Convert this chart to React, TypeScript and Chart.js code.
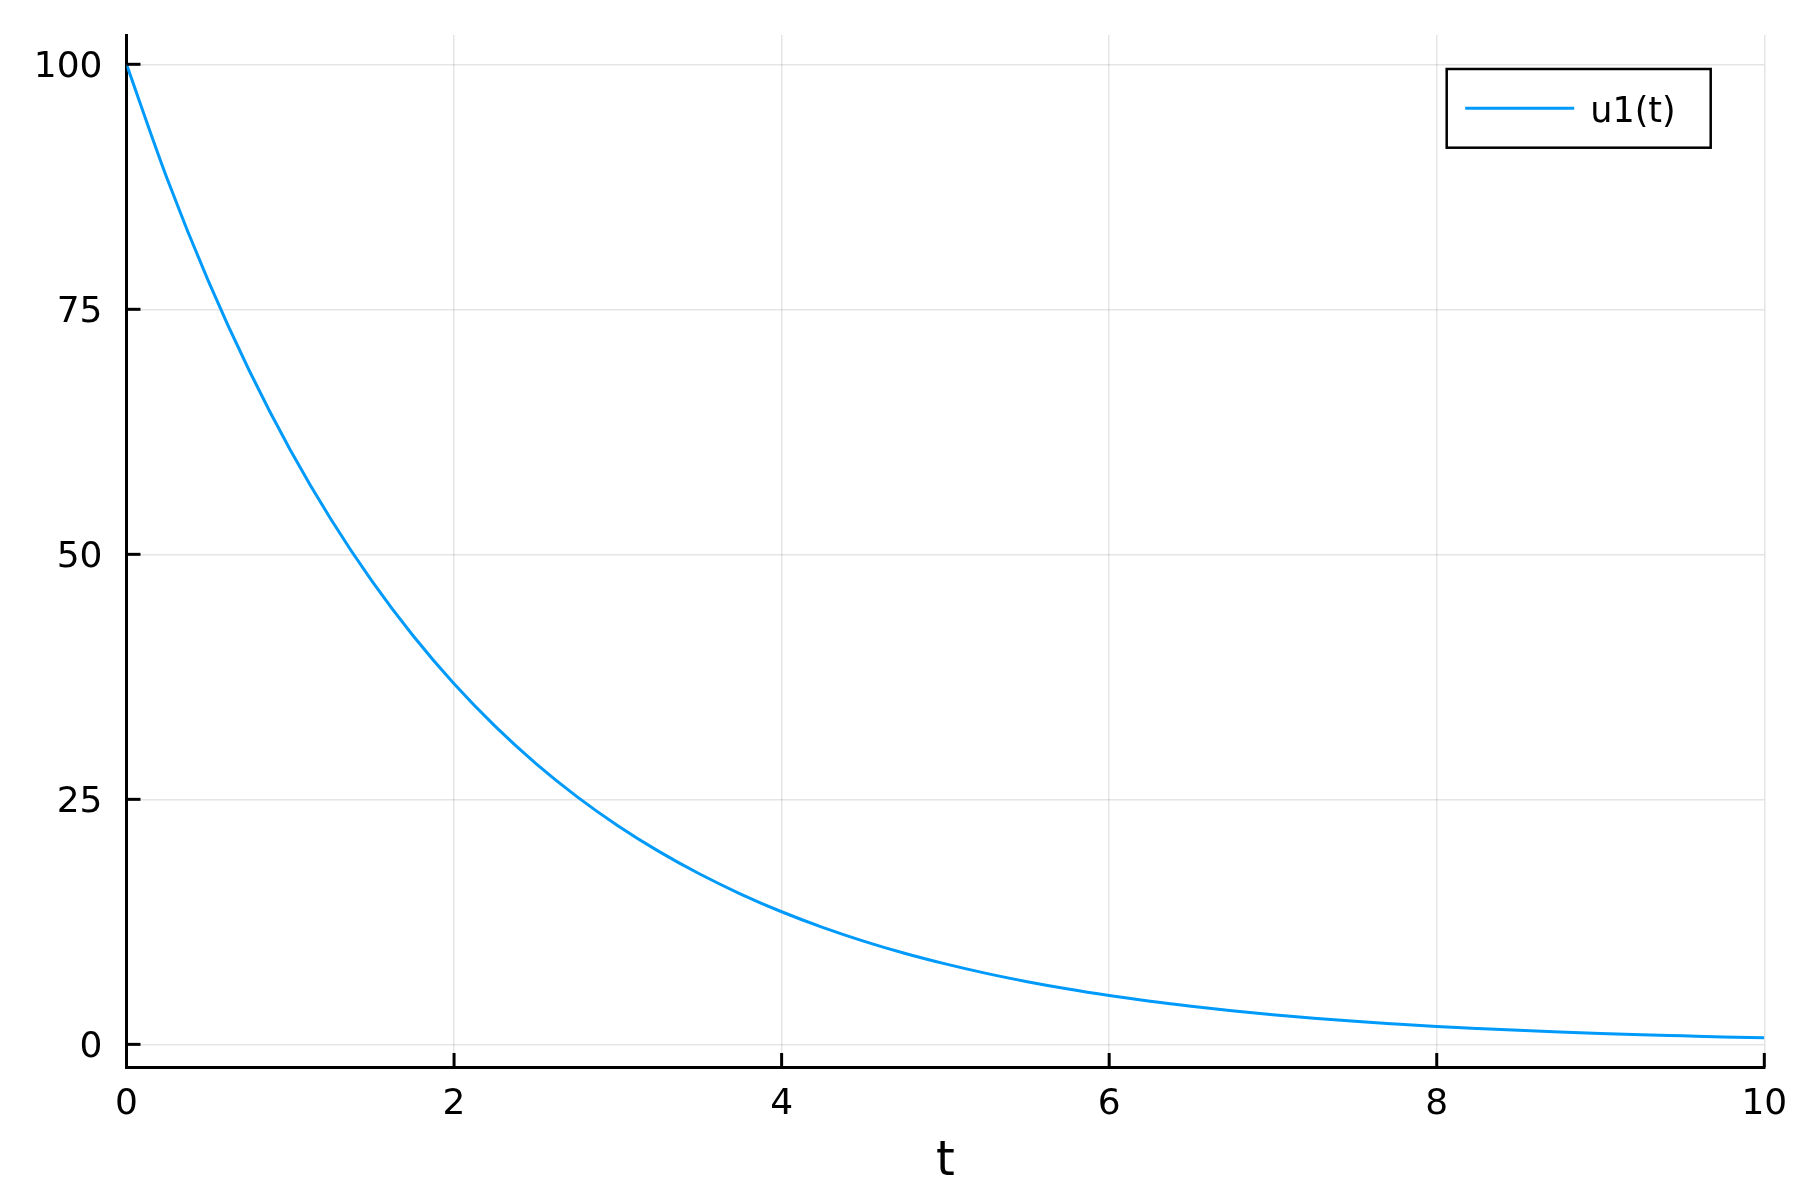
import React, { useEffect, useRef } from "react";
import { Chart, registerables } from "chart.js";

Chart.register(...registerables);

const tValues = [
  0, 0.25, 0.5, 0.75, 1, 1.25, 1.5, 1.75, 2, 2.25, 2.5, 2.75, 3, 3.25, 3.5, 3.75, 4, 4.25, 4.5, 4.75, 5,
  5.25, 5.5, 5.75, 6, 6.25, 6.5, 6.75, 7, 7.25, 7.5, 7.75, 8, 8.25, 8.5, 8.75, 9, 9.25, 9.5, 9.75, 10,
];
const u1Values = [
  100, 88.25, 77.88, 68.73, 60.65, 53.53, 47.24, 41.69, 36.79, 32.47, 28.65, 25.28, 22.31, 19.69, 17.38,
  15.34, 13.53, 11.94, 10.54, 9.3, 8.21, 7.24, 6.39, 5.64, 4.98, 4.39, 3.88, 3.42, 3.02, 2.67, 2.35, 2.08,
  1.83, 1.62, 1.43, 1.26, 1.11, 0.98, 0.87, 0.76, 0.67,
];
const xTicks = [0, 2, 4, 6, 8, 10];
const yTicks = [0, 25, 50, 75, 100];
const seriesLabel = "u1(t)";
const xTitle = "t";

const FONT = "'DejaVu Sans', 'Liberation Sans', sans-serif";
const LINE_COLOR = "#009AFA";

const insideTicksPlugin = {
  id: "insideTicks",
  afterDraw(chart: any) {
    const { ctx, chartArea, scales } = chart;
    ctx.save();
    ctx.strokeStyle = "#000";
    ctx.lineWidth = 3;
    ctx.lineCap = "butt";
    const xs = scales.x;
    const ys = scales.y;
    xTicks.forEach((v) => {
      const px = xs.getPixelForValue(v);
      ctx.beginPath();
      ctx.moveTo(px, chartArea.bottom);
      ctx.lineTo(px, chartArea.bottom - 14);
      ctx.stroke();
    });
    yTicks.forEach((v) => {
      const py = ys.getPixelForValue(v);
      ctx.beginPath();
      ctx.moveTo(chartArea.left, py);
      ctx.lineTo(chartArea.left + 14, py);
      ctx.stroke();
    });
    ctx.restore();
  },
};

const boxLegendPlugin = {
  id: "boxLegend",
  afterDraw(chart: any) {
    const { ctx, chartArea } = chart;
    const ds = chart.data.datasets[0];
    const right = chartArea.right - 53.6;
    const left = right - 264;
    const top = chartArea.top + 34;
    const h = 78.7;
    ctx.save();
    ctx.fillStyle = "#fff";
    ctx.fillRect(left, top, right - left, h);
    ctx.strokeStyle = "#000";
    ctx.lineWidth = 2.5;
    ctx.strokeRect(left, top, right - left, h);
    const midY = top + h / 2;
    ctx.strokeStyle = ds.borderColor;
    ctx.lineWidth = 3;
    ctx.beginPath();
    ctx.moveTo(left + 18.5, midY);
    ctx.lineTo(left + 127.5, midY);
    ctx.stroke();
    ctx.fillStyle = "#000";
    ctx.font = `35px ${FONT}`;
    ctx.textAlign = "left";
    ctx.textBaseline = "alphabetic";
    ctx.fillText(ds.label, left + 143.5, midY + 13.5);
    ctx.restore();
  },
};

export default function App() {
  const canvasRef = useRef<HTMLCanvasElement | null>(null);

  useEffect(() => {
    document.body.style.margin = "0";
    const canvas = canvasRef.current;
    if (!canvas) return;
    const chart = new Chart(canvas, {
      type: "line",
      data: {
        datasets: [
          {
            label: seriesLabel,
            data: tValues.map((t, i) => ({ x: t, y: u1Values[i] })),
            borderColor: LINE_COLOR,
            backgroundColor: LINE_COLOR,
            borderWidth: 3,
            pointRadius: 0,
            fill: false,
            cubicInterpolationMode: "monotone",
          },
        ],
      },
      options: {
        responsive: false,
        animation: false,
        devicePixelRatio: 1,
        layout: { padding: { left: 0, right: 35.7, top: 35, bottom: 0 } },
        plugins: {
          legend: { display: false },
          tooltip: { enabled: false },
        },
        scales: {
          x: {
            type: "linear",
            min: 0,
            max: 10,
            afterBuildTicks: (s: any) => {
              s.ticks = xTicks.map((v) => ({ value: v }));
            },
            afterFit: (s: any) => {
              s.height = 133;
              s.paddingLeft = 0;
              s.paddingRight = 0;
            },
            ticks: {
              font: { family: FONT, size: 36 },
              color: "#000",
              padding: 16,
              maxRotation: 0,
              autoSkip: false,
            },
            grid: { color: "rgba(0,0,0,0.1)", lineWidth: 1.5, drawTicks: false },
            border: { display: true, color: "#000", width: 3 },
            title: {
              display: true,
              text: xTitle,
              color: "#000",
              font: { family: FONT, size: 48 },
              padding: { top: 0, bottom: 8.5 },
            },
          },
          y: {
            type: "linear",
            min: -2.31,
            max: 102.99,
            afterBuildTicks: (s: any) => {
              s.ticks = yTicks.map((v) => ({ value: v }));
            },
            afterFit: (s: any) => {
              s.width = 126.5;
              s.paddingTop = 0;
              s.paddingBottom = 0;
            },
            ticks: {
              font: { family: FONT, size: 36 },
              color: "#000",
              padding: 24,
              labelOffset: 3,
              autoSkip: false,
            },
            grid: { color: "rgba(0,0,0,0.1)", lineWidth: 1.5, drawTicks: false },
            border: { display: true, color: "#000", width: 3 },
          },
        },
      },
      plugins: [insideTicksPlugin, boxLegendPlugin],
    });
    return () => chart.destroy();
  }, []);

  return (
    <div style={{ width: 1800, height: 1200, background: "#fff" }}>
      <canvas ref={canvasRef} width={1800} height={1200} style={{ display: "block" }} />
    </div>
  );
}
